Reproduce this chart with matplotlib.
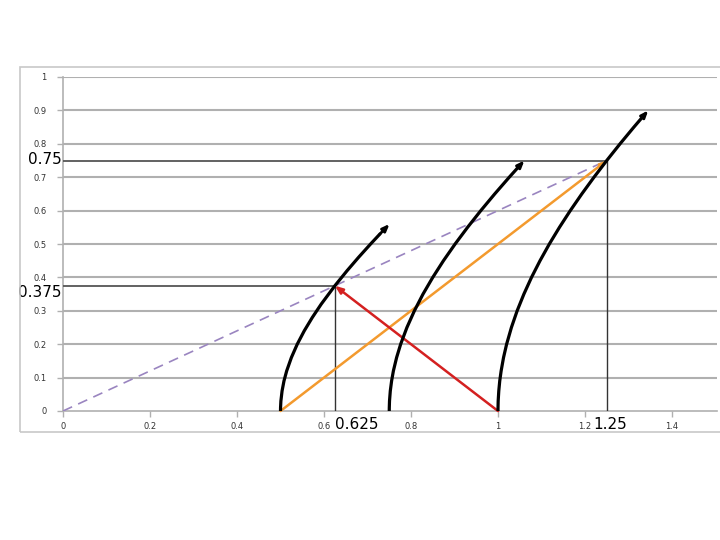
import matplotlib
matplotlib.use("Agg")
import matplotlib.pyplot as plt
from matplotlib.patches import Rectangle

# Data
x_ticks = [0, 0.2, 0.4, 0.6, 0.8, 1, 1.2, 1.4]
x_tick_labels = ["0", "0.2", "0.4", "0.6", "0.8", "1", "1.2", "1.4"]
y_ticks = [0, 0.1, 0.2, 0.3, 0.4, 0.5, 0.6, 0.7, 0.8, 0.9, 1]
y_tick_labels = ["0", "0.1", "0.2", "0.3", "0.4", "0.5", "0.6", "0.7", "0.8", "0.9", "1"]

curve1_x = [0.5, 0.5001, 0.5009, 0.5036, 0.5080, 0.5142, 0.5250, 0.5385, 0.5546, 0.5731,
            0.5936, 0.625, 0.6530, 0.6794, 0.7071, 0.7286, 0.7507]
curve1_y = [0.0, 0.01, 0.03, 0.06, 0.09, 0.12, 0.16, 0.20, 0.24, 0.28,
            0.32, 0.375, 0.42, 0.46, 0.50, 0.53, 0.56]
curve2_x = [0.75, 0.7501, 0.7506, 0.7524, 0.7554, 0.7595, 0.7669, 0.7762, 0.7906, 0.8078,
            0.8276, 0.85, 0.8746, 0.9014, 0.9301, 0.9605, 0.9925, 1.0259, 1.0466, 1.0607]
curve2_y = [0.0, 0.01, 0.03, 0.06, 0.09, 0.12, 0.16, 0.20, 0.25, 0.30,
            0.35, 0.40, 0.45, 0.50, 0.55, 0.60, 0.65, 0.70, 0.73, 0.75]
curve3_x = [1.0, 1.00005, 1.0004, 1.0018, 1.0040, 1.0072, 1.0127, 1.0198, 1.0308, 1.0440,
            1.0595, 1.0770, 1.0966, 1.1180, 1.1413, 1.1662, 1.1927, 1.2207, 1.25, 1.2806,
            1.3124, 1.3321, 1.3454]
curve3_y = [0.0, 0.01, 0.03, 0.06, 0.09, 0.12, 0.16, 0.20, 0.25, 0.30,
            0.35, 0.40, 0.45, 0.50, 0.55, 0.60, 0.65, 0.70, 0.75, 0.80,
            0.85, 0.88, 0.90]

orange_x = [0.5, 1.25]
orange_y = [0.0, 0.75]
red_x = [1.0, 0.625]
red_y = [0.0, 0.375]
purple_x = [0.0, 1.25]
purple_y = [0.0, 0.75]

marker_pts = [(0.625, 0.375), (1.25, 0.75)]
marker_labels_x = ["0.625", "1.25"]
marker_labels_y = ["0.375", "0.75"]

fig = plt.figure(figsize=(7.2, 5.4), dpi=100)
fig.patches.append(Rectangle((20 / 720, 1 - 432 / 540), 1.0, (432 - 67) / 540,
                             transform=fig.transFigure, fill=False,
                             edgecolor="#c8c8c8", linewidth=1.2, zorder=0))

ax = fig.add_axes([63 / 720, 1 - 411 / 540, (717 - 63) / 720, (411 - 77) / 540])
ax.set_xlim(0, (717 - 63) / 435)
ax.set_ylim(0, 1)
ax.patch.set_alpha(0)

for yv in y_ticks[1:]:
    ax.axhline(yv, color="#b0b0b0", linewidth=1.5, zorder=1)

for s in ["top", "right"]:
    ax.spines[s].set_visible(False)
for s in ["left", "bottom"]:
    ax.spines[s].set_color("#b0b0b0")
    ax.spines[s].set_linewidth(1.2)

ax.set_xticks(x_ticks)
ax.set_xticklabels(x_tick_labels)
ax.set_yticks(y_ticks)
ax.set_yticklabels(y_tick_labels)
ax.tick_params(axis="both", labelsize=6, colors="#b0b0b0", labelcolor="#333333",
               length=4, width=1)
ax.tick_params(axis="x", pad=4)
ax.tick_params(axis="y", pad=8)

# marker guide lines
for (px, py) in marker_pts:
    ax.plot([0, px], [py, py], color="#555555", linewidth=1.3, zorder=3)
    ax.plot([px, px], [0, py], color="#333333", linewidth=1.0, zorder=3)

# purple dashed
ax.plot(purple_x, purple_y, color="#9a85c0", linewidth=1.2, linestyle=(0, (6, 4)), zorder=4)
# orange
ax.annotate("", xy=(orange_x[1], orange_y[1]), xytext=(orange_x[0], orange_y[0]),
            arrowprops=dict(arrowstyle="-|>,head_length=0.35,head_width=0.12",
                            color="#f39a2e", lw=1.8, shrinkA=0, shrinkB=0), zorder=5)
# red
ax.annotate("", xy=(red_x[1], red_y[1]), xytext=(red_x[0], red_y[0]),
            arrowprops=dict(arrowstyle="-|>,head_length=0.45,head_width=0.18",
                            color="#d42020", lw=1.8, shrinkA=0, shrinkB=0), zorder=5)

# black curves with arrowheads
for cx, cy in [(curve1_x, curve1_y), (curve2_x, curve2_y), (curve3_x, curve3_y)]:
    ax.plot(cx[:-1], cy[:-1], color="black", linewidth=2.3, zorder=6,
            solid_capstyle="round", solid_joinstyle="round")
    ax.annotate("", xy=(cx[-1], cy[-1]), xytext=(cx[-2], cy[-2]),
                arrowprops=dict(arrowstyle="-|>,head_length=0.4,head_width=0.16",
                                color="black", lw=2.0, shrinkA=0, shrinkB=0), zorder=6)

# big labels
ax.text(marker_pts[0][0] + 0.001, -0.017, marker_labels_x[0], ha="left", va="top",
        fontsize=11, color="black")
ax.text(marker_pts[1][0] - 0.032, -0.017, marker_labels_x[1], ha="left", va="top",
        fontsize=11, color="black")
ax.text(-0.004, marker_pts[0][1] - 0.02, marker_labels_y[0], ha="right", va="center",
        fontsize=11, color="black")
ax.text(-0.004, marker_pts[1][1] + 0.003, marker_labels_y[1], ha="right", va="center",
        fontsize=11, color="black")

fig.savefig("out.png", dpi=100)
